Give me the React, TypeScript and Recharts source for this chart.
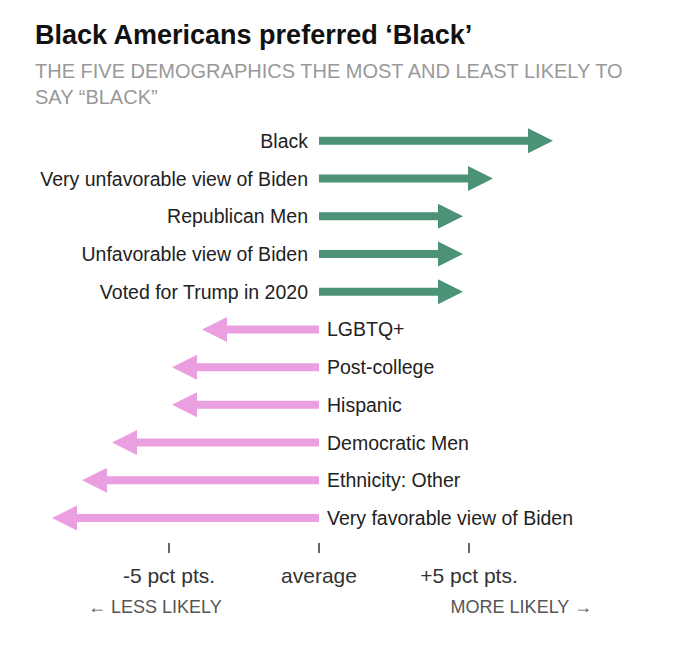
import React from 'react';
import { BarChart, Bar, XAxis, YAxis } from 'recharts';

// Kleuren en lettertype
const GROEN = '#4b9276';
const ROZE = '#e99fe0';
const TEKST = '#222222';
const GRIJS = '#999999';
const FONT = '"Liberation Sans", Arial, sans-serif';

// Groepen en afwijking t.o.v. gemiddelde (procentpunten)
const groepen = [
  'Black',
  'Very unfavorable view of Biden',
  'Republican Men',
  'Unfavorable view of Biden',
  'Voted for Trump in 2020',
  'LGBTQ+',
  'Post-college',
  'Hispanic',
  'Democratic Men',
  'Ethnicity: Other',
  'Very favorable view of Biden',
];
const afwijking = [7.8, 5.8, 4.8, 4.8, 4.8, -3.9, -4.9, -4.9, -6.9, -7.9, -8.9];

const tickWaarden = [-5, 0, 5];
const tickLabels: Record<number, string> = { [-5]: '-5 pct pts.', 0: 'average', 5: '+5 pct pts.' };

const data = groepen.map((naam, i) => ({ naam, waarde: afwijking[i] }));

function Pijl(props: any) {
  const { x, y, width, height, payload } = props;
  const v = payload.waarde;
  const a = x;
  const b = x + width;
  const nul = v >= 0 ? Math.min(a, b) : Math.max(a, b);
  const punt = v >= 0 ? Math.max(a, b) : Math.min(a, b);
  const cy = y + height / 2;
  const dir = v >= 0 ? 1 : -1;
  const kop = 25;
  const halfKop = 12.5;
  const schacht = 4;
  const basis = punt - dir * kop;
  const kleur = v >= 0 ? GROEN : ROZE;
  const pts = [
    [nul, cy - schacht],
    [basis, cy - schacht],
    [basis, cy - halfKop],
    [punt, cy],
    [basis, cy + halfKop],
    [basis, cy + schacht],
    [nul, cy + schacht],
  ].map(p => p.join(',')).join(' ');
  return (
    <g>
      <polygon points={pts} fill={kleur} />
      <text
        x={v >= 0 ? nul - 11 : nul + 8}
        y={cy}
        dy="0.36em"
        textAnchor={v >= 0 ? 'end' : 'start'}
        fill={TEKST}
        fontSize={19.5}
        fontFamily={FONT}
      >
        {payload.naam}
      </text>
    </g>
  );
}

function Tick(props: any) {
  const { x, y, payload } = props;
  return (
    <g>
      <line x1={x} x2={x} y1={y + 6} y2={y + 16} stroke="#333" strokeWidth={1.5} />
      <text x={x} y={y + 46} textAnchor="middle" fill="#333" fontSize={21} fontFamily={FONT}>
        {tickLabels[payload.value]}
      </text>
    </g>
  );
}

export default function App() {
  return (
    <div style={{ position: 'relative', width: 664, height: 632, fontFamily: FONT }}>
      <div style={{ position: 'absolute', left: 27, top: 12, fontFamily: '"Liberation Sans Narrow", "Liberation Sans", sans-serif', fontWeight: 700, fontSize: 27, color: '#111' }}>
        Black Americans preferred ‘Black’
      </div>
      <div style={{ position: 'absolute', left: 27, top: 50, fontSize: 20, lineHeight: '26px', color: GRIJS, whiteSpace: 'nowrap' }}>
        THE FIVE DEMOGRAPHICS THE MOST AND LEAST LIKELY TO
        <br />
        SAY “BLACK”
      </div>
      <div style={{ position: 'absolute', left: 0, top: 0 }}>
        <BarChart
          width={664}
          height={620}
          data={data}
          layout="vertical"
          margin={{ top: 114, right: 83, left: 41, bottom: 31 }}
        >
          <XAxis
            type="number"
            domain={[-9, 9]}
            ticks={tickWaarden}
            axisLine={false}
            tickLine={false}
            tickSize={0}
            tickMargin={0}
            height={60}
            tick={<Tick />}
            interval={0}
          />
          <YAxis type="category" dataKey="naam" hide />
          <Bar dataKey="waarde" shape={<Pijl />} isAnimationActive={false} />
        </BarChart>
      </div>
      <div style={{ position: 'absolute', left: 80, top: 589, fontSize: 18, color: '#555' }}>
        ← LESS LIKELY
      </div>
      <div style={{ position: 'absolute', right: 80, top: 589, fontSize: 18, color: '#555' }}>
        MORE LIKELY →
      </div>
    </div>
  );
}
